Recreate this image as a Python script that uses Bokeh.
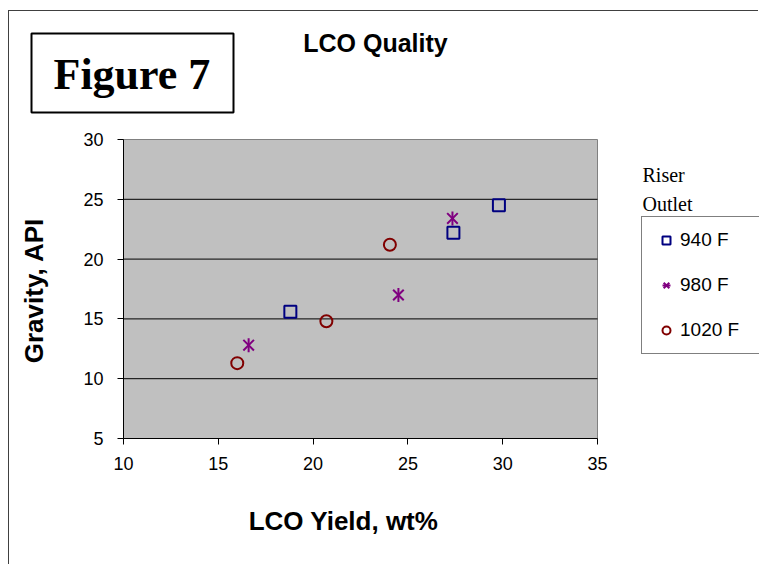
import math
from bokeh.plotting import figure
from bokeh.models import (Range1d, FixedTicker, Label, Legend, LegendItem, BoxAnnotation)
from bokeh.embed import file_html
from bokeh.resources import INLINE

# ---- data ----
yield_940 = [18.8, 27.4, 29.8]
api_940 = [15.6, 22.2, 24.5]
yield_980 = [16.6, 24.5, 27.35]
api_980 = [12.8, 17.0, 23.4]
yield_1020 = [16.0, 20.7, 24.05]
api_1020 = [11.3, 14.8, 21.2]
series_labels = ["940 F", "980 F", "1020 F"]
x_ticks = [10, 15, 20, 25, 30, 35]
y_ticks = [5, 10, 15, 20, 25, 30]
x_lo, x_hi = 10, 35
y_lo, y_hi = 5, 30

# page offset of the canvas (outer chart border drawn with CSS)
OX, OY = 9, 11
W, H = 759 - OX, 565 - OY
# plot-area edges in canvas px
PL, PR, PT, PB = 123 - OX, 597 - OX, 139 - OY, 438 - OY
kx = (PR - PL) / (x_hi - x_lo)
ky = (PB - PT) / (y_hi - y_lo)

p = figure(width=W, height=H, output_backend="svg", toolbar_location=None,
           x_range=Range1d(x_lo - PL / kx, x_hi + (W - PR) / kx),
           y_range=Range1d(y_lo - (H - PB) / ky, y_hi + PT / ky),
           min_border_left=0, min_border_right=0, min_border_top=0, min_border_bottom=0)
p.title.visible = False
p.styles = {"margin-left": "8px", "margin-top": "10px",
            "border-left": "1px solid #404040", "border-top": "1px solid #404040"}
p.background_fill_color = "white"
p.border_fill_color = "white"
p.outline_line_color = None
p.xgrid.visible = False
p.ygrid.visible = False

# plot area
p.quad(left=[x_lo], right=[x_hi], bottom=[y_lo], top=[y_hi], fill_color="#C0C0C0",
       line_color="#808080", line_width=1, level="image")
# horizontal gridlines at the inner y ticks, limited to the plot area
grid_y = [t for t in y_ticks if y_lo < t < y_hi]
p.segment(x0=[x_lo] * len(grid_y), x1=[x_hi] * len(grid_y), y0=grid_y, y1=grid_y,
          line_color="black", line_width=1, level="underlay")

p.xaxis.ticker = FixedTicker(ticks=x_ticks)
p.yaxis.ticker = FixedTicker(ticks=y_ticks)
p.xaxis.fixed_location = y_lo
p.yaxis.fixed_location = x_lo
p.xaxis.bounds = (x_lo, x_hi)
p.yaxis.bounds = (y_lo, y_hi)
for ax in (p.xaxis[0], p.yaxis[0]):
    ax.axis_line_color = "black"
    ax.major_tick_line_color = "black"
    ax.major_tick_in = 0
    ax.major_tick_out = 6
    ax.minor_tick_line_color = None
    ax.major_label_text_font = "Liberation Sans"
    ax.major_label_text_font_size = "18px"
    ax.major_label_text_color = "black"
p.xaxis.major_label_standoff = 12
p.yaxis.major_label_standoff = 14

r940 = p.scatter(yield_940, api_940, marker="square", size=12, line_width=2,
                 line_color="#000080", fill_color=None)
r980a = p.scatter(yield_980, api_980, marker="x", size=15, line_width=2,
                  line_color="#800080")
r980b = p.scatter(yield_980, api_980, marker="dash", size=14, angle=math.pi / 2,
                  line_width=2, line_color="#800080")
r1020 = p.scatter(yield_1020, api_1020, marker="circle", size=12, line_width=2,
                  line_color="#800000", fill_color=None)

legend = Legend(items=[LegendItem(label=series_labels[0], renderers=[r940]),
                       LegendItem(label=series_labels[1], renderers=[r980a, r980b]),
                       LegendItem(label=series_labels[2], renderers=[r1020])],
                location=(641 - OX, H - (354 - OY)))
legend.border_line_color = "black"
legend.border_line_width = 1
legend.background_fill_color = "white"
legend.background_fill_alpha = 1
legend.padding = 12
legend.spacing = 23
legend.margin = 0
legend.glyph_height = 20
legend.glyph_width = 24
legend.label_height = 20
legend.label_standoff = 2
legend.label_text_font = "Liberation Sans"
legend.label_text_font_size = "19px"
legend.label_text_color = "black"
legend.label_width = 80
p.add_layout(legend, "center")

# Figure 7 box
p.add_layout(BoxAnnotation(left=31 - OX, right=233 - OX, top=H - (33 - OY), bottom=H - (112 - OY),
                           left_units="screen", right_units="screen",
                           top_units="screen", bottom_units="screen",
                           fill_color="white", fill_alpha=1,
                           line_color="black", line_alpha=1, line_width=2))

def lab(text, x, y, size, font="Liberation Sans", style="bold", align="left",
        baseline="alphabetic", angle=0):
    p.add_layout(Label(x=x - OX, y=y - OY, x_units="canvas", y_units="canvas",
                       text=text, text_font=font, text_font_size=size,
                       text_font_style=style, text_align=align, angle=angle,
                       text_baseline=baseline, text_color="black"), "center")

lab("Figure 7", 52, 72.5, "44px", font="Liberation Serif")
lab("LCO Quality", 374, 41, "25px", align="center")
lab("Riser", 641, 173, "20px", font="Liberation Serif", style="normal")
lab("Outlet", 641, 202, "20px", font="Liberation Serif", style="normal")
lab("LCO Yield, wt%", 342, 519, "26px", align="center")
lab("Gravity, API", 32, 289, "26px", align="center", baseline="middle", angle=math.pi / 2)

open("out.html", "w").write(file_html(p, INLINE))
